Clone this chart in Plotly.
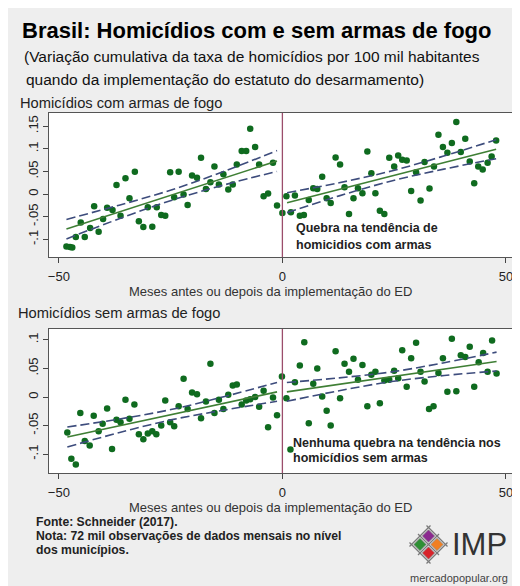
import plotly.graph_objects as go

# the page body adds an 8px margin, so the figure is 512x578 and all
# reference pixel positions are shifted by that margin
W, H = 512, 578
OFF = 8

# ---------------- data ----------------
months_pre_com = [-48.3, -47.5, -47.0, -46.2, -45.1, -44.2, -43.0, -42.1, -41.1, -40.1,
                  -39.2, -38.0, -37.1, -36.2, -35.1, -34.2, -33.0, -32.1, -31.1, -30.1,
                  -29.1, -28.1, -27.1, -26.2, -25.1, -24.2, -23.2, -22.1, -21.2, -20.2,
                  -19.1, -18.2, -17.1, -16.1, -15.2, -14.2, -13.2, -12.1, -11.1, -10.2,
                  -9.1, -8.1, -7.2, -6.1, -5.2, -4.2, -3.2, -2.1, -1.2, 0.0]
vals_pre_com = [-0.116, -0.117, -0.118, -0.095, -0.063, -0.095, -0.075, -0.027, -0.083, -0.055,
                -0.030, -0.035, 0.020, -0.048, 0.035, -0.009, 0.049, -0.060, -0.073, -0.029,
                -0.072, -0.029, -0.046, -0.048, 0.048, -0.007, 0.049, -0.001, -0.024, 0.041,
                0.036, 0.080, 0.011, 0.026, 0.061, 0.021, 0.044, 0.010, 0.021, 0.065,
                0.095, 0.095, 0.144, 0.104, 0.065, -0.005, 0.001, 0.069, -0.025, -0.042]
months_post_com = [0.9, 1.9, 2.8, 3.9, 4.8, 5.9, 6.9, 7.8, 8.9, 9.9,
                   10.8, 11.9, 12.9, 13.9, 14.9, 15.9, 16.9, 17.9, 19.0, 19.9,
                   20.8, 21.8, 22.8, 23.9, 25.0, 25.9, 26.8, 27.8, 28.8, 29.9,
                   30.9, 31.8, 32.9, 33.9, 34.9, 35.9, 36.9, 37.9, 38.9, 39.9,
                   40.9, 41.9, 42.9, 43.8, 44.8, 45.9, 46.8, 47.8]
vals_post_com = [-0.005, -0.040, -0.003, -0.048, -0.046, -0.013, 0.013, 0.011, 0.038, -0.009,
                 -0.020, 0.081, 0.065, 0.015, -0.044, -0.009, 0.013, 0.002, 0.094, 0.046,
                 0.002, -0.037, -0.044, 0.080, 0.061, 0.085, 0.076, 0.074, 0.007, 0.048,
                 -0.014, 0.071, 0.012, 0.061, 0.131, 0.104, 0.091, 0.113, 0.159, 0.093,
                 0.122, 0.072, 0.024, 0.061, 0.054, 0.069, 0.083, 0.118]

months_pre_sem = [-48.1, -47.2, -46.2, -45.2, -44.2, -43.1, -42.2, -41.1, -40.2, -39.2,
                  -38.1, -37.1, -36.2, -35.1, -34.2, -33.1, -32.1, -31.1, -30.1, -29.1,
                  -28.2, -27.1, -26.2, -25.1, -24.2, -23.2, -22.1, -21.2, -20.2, -19.1,
                  -18.2, -17.1, -16.1, -15.2, -14.2, -13.2, -12.1, -11.1, -10.2, -9.1,
                  -8.1, -7.2, -6.1, -5.2, -4.2, -3.2, -2.1, -1.2, -0.1]
vals_pre_sem = [-0.062, -0.108, -0.118, -0.028, -0.077, -0.085, -0.033, -0.060, -0.047, -0.020,
                -0.091, -0.040, -0.044, -0.005, -0.038, -0.013, -0.065, -0.074, -0.064, -0.060,
                -0.065, -0.050, -0.006, -0.044, -0.051, -0.016, 0.032, -0.021, 0.008, 0.005,
                -0.037, -0.008, 0.058, -0.028, -0.005, -0.021, 0.004, 0.020, 0.022, -0.013,
                -0.006, -0.004, 0.000, -0.017, 0.011, -0.053, -0.001, -0.032, 0.036]
months_post_sem = [0.9, 1.8, 2.8, 3.9, 4.9, 5.9, 6.9, 7.8, 8.9, 9.9,
                   10.8, 11.9, 12.9, 13.9, 14.9, 15.9, 16.9, 17.9, 19.0, 19.9,
                   20.8, 21.8, 22.8, 23.9, 25.0, 25.9, 26.8, 27.8, 28.8, 29.9,
                   30.9, 31.8, 32.8, 33.8, 34.9, 35.9, 36.9, 37.9, 38.9, 39.9,
                   40.9, 41.9, 42.9, 43.9, 44.9, 45.9, 46.9, 47.9]
vals_post_sem = [-0.002, -0.092, 0.026, 0.055, 0.096, -0.046, 0.023, 0.050, 0.001, -0.024,
                 -0.050, 0.080, -0.002, 0.058, 0.044, 0.067, 0.030, 0.056, -0.016, 0.039,
                 0.044, -0.011, 0.029, 0.030, 0.046, 0.033, 0.082, 0.018, 0.068, 0.095,
                 0.044, 0.027, -0.021, -0.016, 0.042, 0.068, 0.009, 0.102, 0.010, 0.073,
                 0.070, 0.088, 0.018, 0.061, 0.077, 0.044, 0.099, 0.041]

# fitted trends and confidence bands
fit_pre_com_x = [-48.3, -36.5, -24.7, -13.0, -1.2]
fit_pre_com = [-0.077, -0.0395, -0.002, 0.0353, 0.073]
ci_hi_pre_com = [-0.056, -0.0245, 0.0095, 0.0503, 0.096]
ci_lo_pre_com = [-0.099, -0.0545, -0.0135, 0.0203, 0.050]
fit_post_com_x = [1.05, 12.7, 24.4, 36.1, 47.8]
fit_post_com = [-0.019, 0.0104, 0.040, 0.0695, 0.099]
ci_hi_post_com = [0.003, 0.025, 0.051, 0.084, 0.120]
ci_lo_post_com = [-0.041, -0.004, 0.029, 0.055, 0.078]

fit_pre_sem_x = [-48.1, -36.4, -24.65, -12.9, -1.2]
fit_pre_sem = [-0.070, -0.0503, -0.0306, -0.0109, 0.009]
ci_hi_pre_sem = [-0.0525, -0.0385, -0.0216, 0.0009, 0.0255]
ci_lo_pre_sem = [-0.0875, -0.0621, -0.0396, -0.0227, -0.0075]
fit_post_sem_x = [1.0, 12.7, 24.45, 36.2, 47.9]
fit_post_sem = [0.009, 0.0222, 0.0355, 0.0488, 0.062]
ci_hi_post_sem = [0.0255, 0.0334, 0.044, 0.060, 0.0785]
ci_lo_post_sem = [-0.0075, 0.011, 0.027, 0.0376, 0.0455]

x_ticks = [-50, 0, 50]
y_ticks_com = [-0.1, -0.05, 0, 0.05, 0.1, 0.15]
y_labels_com = ["-.1", "-.05", "0", ".05", ".1", ".15"]
y_ticks_sem = [-0.1, -0.05, 0, 0.05, 0.1]
y_labels_sem = ["-.1", "-.05", "0", ".05", ".1"]

# ---------------- styling ----------------
FONT = "Liberation Sans, Arial, sans-serif"
DOT = "#0f6b1f"
FIT = "#3f7f35"
CI = "#3d4c7c"
VLINE = "#9b4d6b"
BG = "#eeeeee"


def px(x):
    return (x - OFF) / W


def py(y):
    return 1 - (y - OFF) / H


fig = go.Figure()


def add_panel(xa, ya, pre_x, pre_y, post_x, post_y,
              fpx, fp, hip, lop, fqx, fq, hiq, loq):
    for xs, ys in ((pre_x, pre_y), (post_x, post_y)):
        fig.add_trace(go.Scatter(x=xs, y=ys, mode="markers", xaxis=xa, yaxis=ya,
                                 marker=dict(size=6.5, color=DOT), showlegend=False,
                                 hoverinfo="skip"))
    for fx, f, hi, lo in ((fpx, fp, hip, lop), (fqx, fq, hiq, loq)):
        for band in (hi, lo):
            fig.add_trace(go.Scatter(x=fx, y=band, mode="lines", xaxis=xa, yaxis=ya,
                                     line=dict(color=CI, width=1.6, dash="9px,4px",
                                               shape="spline"),
                                     showlegend=False, hoverinfo="skip"))
        fig.add_trace(go.Scatter(x=[fx[0], fx[-1]], y=[f[0], f[-1]], mode="lines",
                                 xaxis=xa, yaxis=ya,
                                 line=dict(color=FIT, width=1.6),
                                 showlegend=False, hoverinfo="skip"))


add_panel("x", "y", months_pre_com, vals_pre_com, months_post_com, vals_post_com,
          fit_pre_com_x, fit_pre_com, ci_hi_pre_com, ci_lo_pre_com,
          fit_post_com_x, fit_post_com, ci_hi_post_com, ci_lo_post_com)
add_panel("x2", "y2", months_pre_sem, vals_pre_sem, months_post_sem, vals_post_sem,
          fit_pre_sem_x, fit_pre_sem, ci_hi_pre_sem, ci_lo_pre_sem,
          fit_post_sem_x, fit_post_sem, ci_hi_post_sem, ci_lo_post_sem)

xdom = [px(49), px(514)]
xaxis_common = dict(range=[-52.2, 51.8], tickvals=x_ticks, ticks="outside", ticklen=5,
                    tickcolor="#444", showline=True, linecolor="#555", linewidth=1,
                    mirror=True, showgrid=False, zeroline=False,
                    tickfont=dict(size=13, color="#222", family=FONT),
                    ticklabelstandoff=2, domain=xdom)
yaxis_common = dict(ticks="outside", ticklen=5, tickcolor="#444", showline=True,
                    linecolor="#555", linewidth=1, mirror=True, showgrid=False,
                    zeroline=False, tickangle=-90,
                    tickfont=dict(size=13, color="#222", family=FONT))

fig.update_layout(
    width=W, height=H, margin=dict(l=0, r=0, t=0, b=0),
    paper_bgcolor=BG, plot_bgcolor="white",
    font=dict(family=FONT, color="#222"),
    xaxis=dict(**xaxis_common, anchor="y"),
    yaxis=dict(**yaxis_common, range=[-0.139, 0.179], tickvals=y_ticks_com,
               ticktext=y_labels_com, domain=[py(257), py(113)], anchor="x"),
    xaxis2=dict(**xaxis_common, anchor="y2"),
    yaxis2=dict(**yaxis_common, range=[-0.133, 0.119], tickvals=y_ticks_sem,
                ticktext=y_labels_sem, domain=[py(473), py(329)], anchor="x2"),
)

shapes = [
    dict(type="line", xref="x", yref="y domain", x0=0, x1=0, y0=0, y1=1,
         line=dict(color=VLINE, width=1.3)),
    dict(type="line", xref="x2", yref="y2 domain", x0=0, x1=0, y0=0, y1=1,
         line=dict(color=VLINE, width=1.3)),
]

# logo (IMP) - lattice + diamonds
cx, cy = 428.5, 544.5
for k in (-17, 0, 17):
    for sgn in (1, -1):
        s0, s1 = -21, 21
        if sgn == 1:
            x0, y0 = (s0 - k) / 2, (s0 + k) / 2
            x1, y1 = (s1 - k) / 2, (s1 + k) / 2
        else:
            x0, y0 = (k - s0) / 2, (k + s0) / 2
            x1, y1 = (k - s1) / 2, (k + s1) / 2
        shapes.append(dict(type="line", xref="paper", yref="paper",
                           x0=px(cx + x0), y0=py(cy + y0), x1=px(cx + x1), y1=py(cy + y1),
                           line=dict(color="#7a7a7a", width=1.3)))
h = 6.2
for (dx, dy, col) in ((0, -8.5, "#8b2a8f"), (-8.5, 0, "#2e8f34"),
                      (8.5, 0, "#f07f22"), (0, 8.5, "#d8232a")):
    x0c, y0c = cx + dx, cy + dy
    path = "M {} {} L {} {} L {} {} L {} {} Z".format(
        px(x0c), py(y0c - h), px(x0c + h), py(y0c), px(x0c), py(y0c + h),
        px(x0c - h), py(y0c))
    shapes.append(dict(type="path", xref="paper", yref="paper", path=path,
                       fillcolor=col, line=dict(color="#888", width=0.8)))
fig.update_layout(shapes=shapes)


def txt(x, y, s, size, bold=False, color="#111", xanchor="left"):
    fig.add_annotation(x=px(x), y=py(y), xref="paper", yref="paper", text=s,
                       showarrow=False, xanchor=xanchor, yanchor="middle", align="left",
                       font=dict(size=size, color=color, family=FONT,
                                 weight="bold" if bold else "normal"))


txt(20, 30, "Brasil: Homicídios com e sem armas de fogo", 22, bold=True, color="#000")
txt(22, 57, "(Variação cumulativa da taxa de homicídios por 100 mil habitantes", 15.5)
txt(24, 79, "quando da implementação do estatuto do desarmamento)", 15.5)
txt(18, 103, "Homicídios com armas de fogo", 14.7, color="#222")
txt(16, 313, "Homicídios sem armas de fogo", 14.7, color="#222")
txt(270, 291, "Meses antes ou depois da implementação do ED", 13, color="#333",
    xanchor="center")
txt(270, 507, "Meses antes ou depois da implementação do ED", 13, color="#333",
    xanchor="center")
txt(294, 228, "Quebra na tendência de", 12.5, bold=True, color="#222")
txt(294, 245, "homicidios com armas", 12.5, bold=True, color="#222")
txt(291, 443, "Nenhuma quebra na tendência nos", 12.5, bold=True, color="#222")
txt(291, 458, "homicídios sem armas", 12.5, bold=True, color="#222")
txt(34, 522, "Fonte: Schneider (2017).", 12.2, bold=True, color="#222")
txt(34, 536, "Nota: 72 mil observações de dados mensais no nível", 12.2, bold=True, color="#222")
txt(34, 550, "dos municípios.", 12.2, bold=True, color="#222")
txt(450, 544, "IMP", 31, color="#333")
txt(459, 578, "mercadopopular.org", 11, color="#444", xanchor="center")

fig.write_html("out.html")
